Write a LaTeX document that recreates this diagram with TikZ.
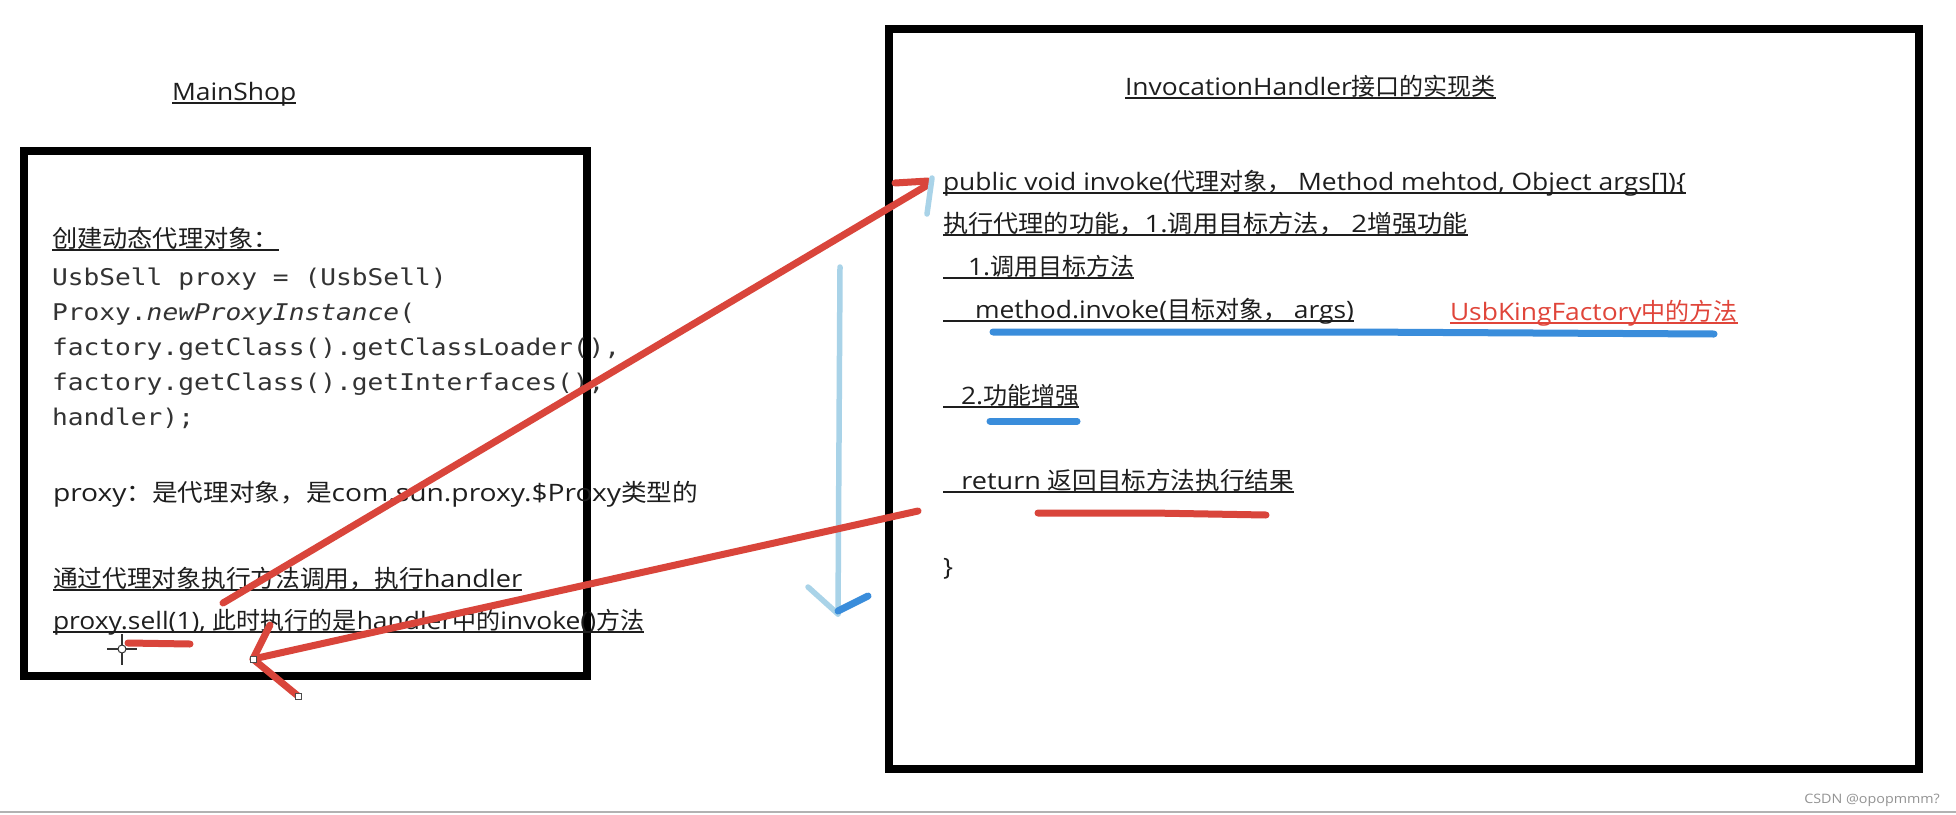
\documentclass[tikz,border=0pt]{standalone}
\usepackage{graphicx}
\usepackage{fontspec}
\setmainfont[FakeStretch=1.1]{Open Sans}
\setmonofont[FakeStretch=1.14]{DejaVu Sans Mono}
\newfontfamily\zhfont{Noto Sans CJK SC}
\newcommand{\zh}[1]{{\zhfont #1}}
\newcommand{\fs}{\fontsize{24}{28}\selectfont}
\newcommand{\cs}{\ttfamily\fontsize{23}{27}\selectfont}
\newcommand{\wm}{\fontsize{13}{15}\selectfont}
\newcommand{\wider}[2]{\scalebox{#1}[1]{#2}}
\definecolor{ink}{HTML}{1E1E1E}
\definecolor{codeink}{HTML}{333333}
\definecolor{textred}{HTML}{E0453A}
\definecolor{penred}{HTML}{D9453B}
\definecolor{penblue}{HTML}{3A8DDB}
\definecolor{penlight}{HTML}{A9D3E8}
\begin{document}
\begin{tikzpicture}[x=1pt,y=-1pt,
  frame/.style={draw=black, line width=8pt, inner sep=0pt, outer sep=0pt},
  txt/.style={anchor=base west, inner sep=0pt, outer sep=0pt, text=ink, font=\fs},
  code/.style={anchor=base west, inner sep=0pt, outer sep=0pt, text=codeink, font=\cs},
  uline/.style={draw=ink, line width=1.3pt},
  redpen/.style={draw=penred, line width=7pt, line cap=round, line join=round},
  bluepen/.style={draw=penblue, line width=7pt, line cap=round, line join=round},
  lightpen/.style={draw=penlight, line width=5.5pt, line cap=round, line join=round},
  handle/.style={draw=black!70, fill=white, line width=0.8pt, minimum size=6pt, inner sep=0pt},
  cursor/.style={draw=black!80, line width=1.4pt}
]
\path[fill=white] (0,0) rectangle (1956,814);
\useasboundingbox (0,0) rectangle (1956,814);
\draw[draw=gray!60, line width=2.5pt] (0,812) -- (1956,812);

% frames
\node[frame, minimum width=563pt, minimum height=525pt] (mainbox) at (305.5,413.5) {};
\node[frame, minimum width=1030pt, minimum height=740pt] (handlerbox) at (1404,399) {};

% left texts
\node[txt] (mainshop) at (172,100) {MainShop};
\node[txt] (create) at (52,247) {\wider{1.05}{\zh{创建动态代理对象：}}};
\node[code] (c1) at (52,285) {UsbSell proxy = (UsbSell)};
\node[code] (c2) at (52,320) {Proxy.\textit{newProxyInstance}(};
\node[code] (c3) at (52,355) {factory.getClass().getClassLoader(),};
\node[code] (c4) at (52,390) {factory.getClass().getInterfaces(),};
\node[code] (c5) at (52,425) {handler);};
\node[txt] (ptype) at (53,501) {\wider{1.068}{proxy\zh{：是代理对象，是}com.sun.proxy.\$Proxy\zh{类型的}}};
\node[txt] (via) at (53,587) {\wider{1.03}{\zh{通过代理对象执行方法调用，执行}handler}};
\node[txt] (sell) at (53,629) {proxy.sell(1), \zh{此时执行的是}handler\zh{中的}invoke()\zh{方法}};

% right texts
\node[txt] (ihtitle) at (1125,95) {InvocationHandler\zh{接口的实现类}};
\node[txt] (sig) at (943,190) {public void invoke(\zh{代理对象，} Method mehtod, Object args[])\{};
\node[txt] (func) at (943,232) {\wider{1.05}{\zh{执行代理的功能，}1.\zh{调用目标方法，} 2\zh{增强功能}}};
\node[txt] (step1) at (943,275) {\hspace*{25pt}1.\zh{调用目标方法}};
\node[txt] (call) at (943,318) {\hspace*{32pt}method.invoke(\zh{目标对象，} args)};
\node[txt, text=textred] (factory) at (1450,320) {UsbKingFactory\zh{中的方法}};
\node[txt] (step2) at (943,404) {\hspace*{18pt}2.\zh{功能增强}};
\node[txt] (ret) at (943,489) {\wider{1.025}{\hspace*{18pt}return \zh{返回目标方法执行结果}}};
\node[txt] (close) at (943,575) {\}};
\node[anchor=base east, inner sep=0pt, font=\wm, text=gray!85] (csdn) at (1940,803) {CSDN @opopmmm?};

% underlines
\foreach \n in {mainshop,create,via,sell,ihtitle,sig,func,step1,call,step2,ret}
  \draw[uline] ([yshift=-3pt]\n.base west) -- ([yshift=-3pt]\n.base east);
\draw[uline, draw=textred] ([yshift=-3pt]factory.base west) -- ([yshift=-3pt]factory.base east);

% highlight strokes
\coordinate (hla) at (993,332);
\coordinate (hlb) at (1354,332);
\coordinate (hlc) at (1714,334);
\draw[bluepen] (hla) -- (hlb) -- (hlc);
\coordinate (hld) at (990,421);
\coordinate (hle) at (1077,421);
\draw[bluepen] (hld) -- (hle);
\coordinate (hlf) at (1038,513);
\coordinate (hlg) at (1151,513);
\coordinate (hlh) at (1266,515);
\draw[redpen] (hlf) -- (hlg) -- (hlh);

% call arrow: MainShop -> invoke
\coordinate (callstart) at (223,603);
\coordinate (calltip) at (926,186);
\coordinate (callbarb) at (895,183);
\coordinate (callbarbend) at (928,181);
\coordinate (lbtop) at (932,178);
\coordinate (lbbottom) at (927,214);
\draw[redpen] (callstart) -- (calltip);
\draw[redpen] (callbarb) -- (callbarbend);
\draw[lightpen] (lbtop) -- (lbbottom);

% flow arrow down
\coordinate (flowtop) at (840,267);
\coordinate (flowend) at (838,614);
\coordinate (flowleft) at (808,587);
\coordinate (flowright) at (868,596);
\draw[lightpen] (flowtop) -- (flowend);
\draw[lightpen] (flowleft) -- (flowend);
\draw[bluepen] ([yshift=3pt]flowend) -- (flowright);

% return arrow
\coordinate (retstart) at (918,511);
\coordinate (rettip) at (253,659);
\coordinate (retup) at (270,625);
\coordinate (retdown) at (298,696);
\draw[redpen] (retstart) -- (rettip);
\draw[redpen] (retup) -- (rettip) -- (retdown);
\node[handle] (htip) at (rettip) {};
\node[handle] (hend) at (retdown) {};

% short mark and cursor
\coordinate (marka) at (128,643);
\coordinate (markb) at (190,644);
\draw[redpen] (marka) -- (markb);
\coordinate (cur) at (122,649);
\draw[cursor] ([yshift=15pt]cur) -- ([yshift=-16pt]cur);
\draw[cursor] ([xshift=-15pt]cur) -- ([xshift=15pt]cur);
\node[circle, draw=black!80, fill=white, line width=1pt, minimum size=8pt, inner sep=0pt] (curring) at (cur) {};
\end{tikzpicture}
\end{document}
